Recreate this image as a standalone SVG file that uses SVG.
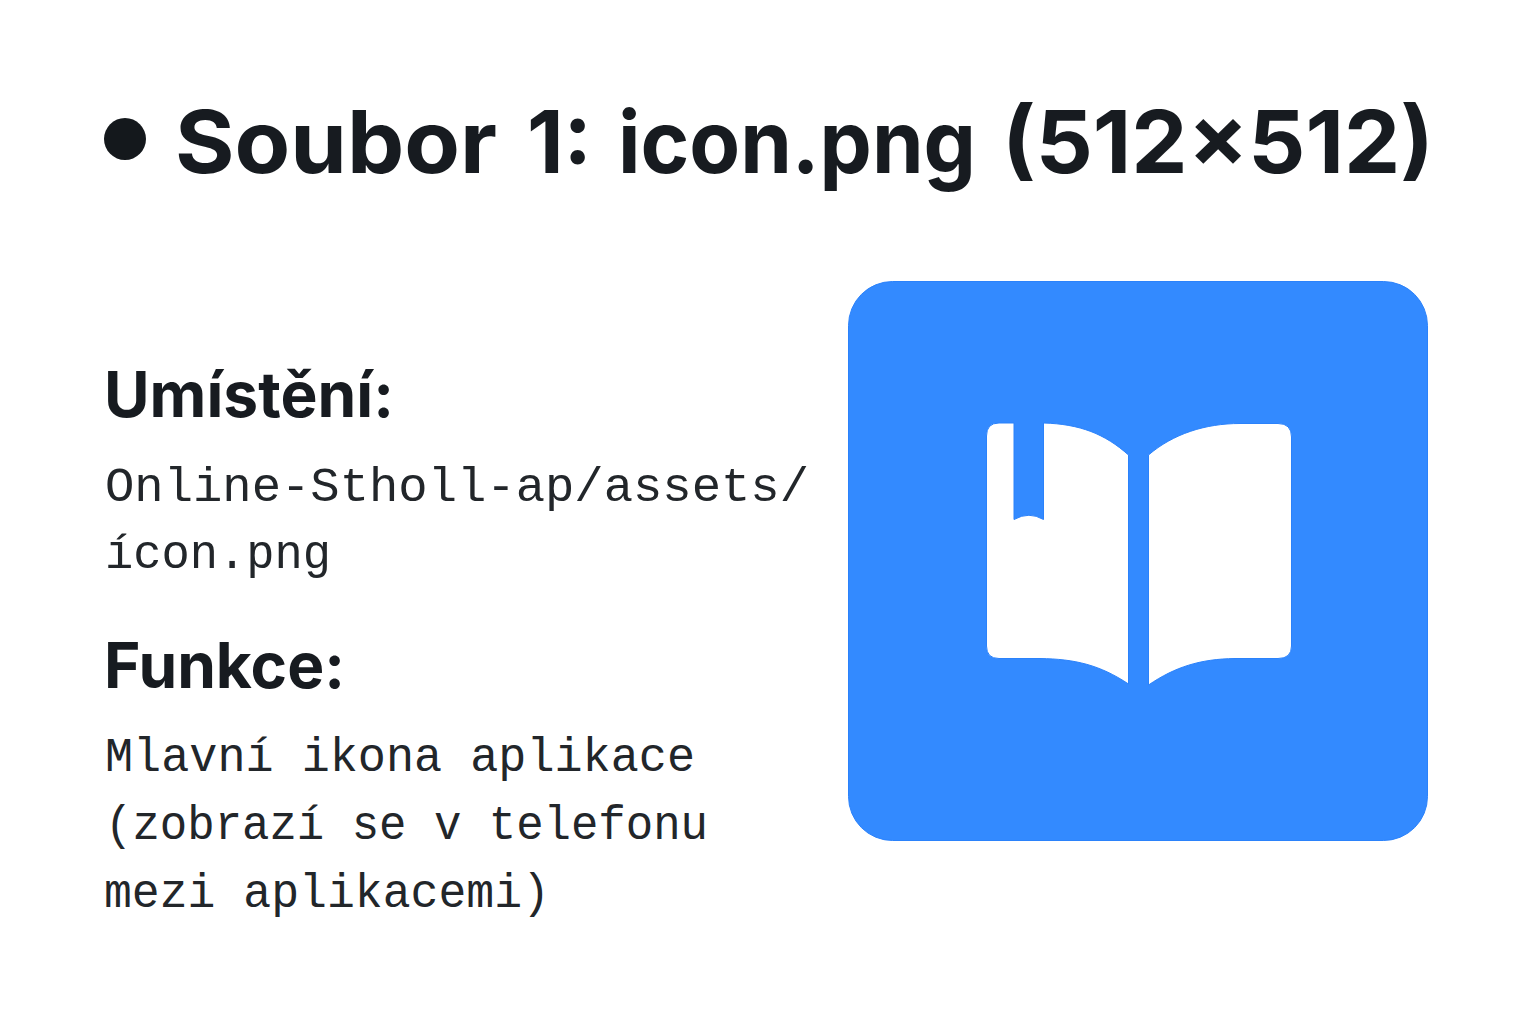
<svg xmlns="http://www.w3.org/2000/svg" width="1536" height="1024" viewBox="0 0 1536 1024">
<style>
.t{font-family:Inter,"Liberation Sans",sans-serif;fill:#171b20}
.h{font-size:63px;font-weight:700}
.m{font-family:"Liberation Mono","DejaVu Sans Mono",monospace;font-size:49px;fill:#22262a;font-weight:400}
.p{fill:#fff;stroke:#2b82fb;stroke-width:1}
</style>
<rect width="1536" height="1024" fill="#fff"/>
<circle cx="125" cy="139" r="21" fill="#14181c"/>
<text class="t" y="173" font-size="87" font-weight="700" lengthAdjust="spacingAndGlyphs"><tspan x="175" textLength="322" lengthAdjust="spacingAndGlyphs">Soubor</tspan> <tspan x="527" textLength="65" lengthAdjust="spacingAndGlyphs">1:</tspan> <tspan x="618" textLength="358" lengthAdjust="spacingAndGlyphs">icon.png</tspan> <tspan x="1002" textLength="432" lengthAdjust="spacingAndGlyphs">(512×512)</tspan></text>
<text class="t h" x="104" y="417" textLength="290" lengthAdjust="spacingAndGlyphs">Umístění:</text>
<text class="m" x="105" y="501" textLength="704" lengthAdjust="spacingAndGlyphs">Online-Stholl-ap/assets/</text>
<text class="m" x="105" y="568" textLength="226" lengthAdjust="spacingAndGlyphs">ícon.png</text>
<text class="t h" x="104" y="688" textLength="241" lengthAdjust="spacingAndGlyphs">Funkce:</text>
<text class="m" x="105" y="771" textLength="590" lengthAdjust="spacingAndGlyphs">Mlavní ikona aplikace</text>
<text class="m" x="105" y="839" textLength="603" lengthAdjust="spacingAndGlyphs">(zobrazí se v telefonu</text>
<text class="m" x="104" y="907" textLength="446" lengthAdjust="spacingAndGlyphs">mezi aplikacemi)</text>
<g id="icon">
<rect x="848.500" y="281.500" width="579" height="559" rx="44" fill="#338aff" stroke="#2b82fb"/>
<path class="p" d="M1014 423H999Q986.500 423 986.500 436V646Q986.500 658.500 999 658.500H1040C1075 659 1100 665 1128.500 684V455C1105 434 1080 424 1043.500 423V519.500Q1029 511 1014 519.500Z"/>
<path class="p" d="M1148.500 455C1173 434 1205 423.500 1240 423.500H1278Q1291.500 423.500 1291.500 437V646Q1291.500 658.500 1278 658.500H1235C1200 659 1175 667 1148.500 685Z"/>
</g>
</svg>
